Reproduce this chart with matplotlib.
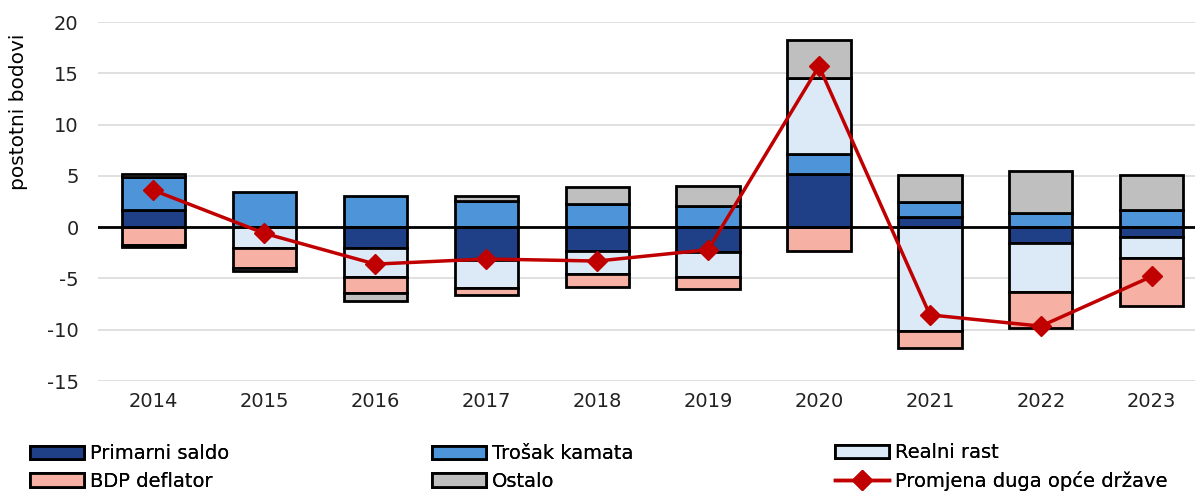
import numpy as np
import matplotlib
matplotlib.use("Agg")
import matplotlib.pyplot as plt

years = ["2014", "2015", "2016", "2017", "2018", "2019", "2020", "2021", "2022", "2023"]
primarni_saldo = [1.7, 0.0, -2.05, -3.2, -2.3, -2.45, 5.2, 1.0, -1.5, -1.0]
trosak_kamata = [3.2, 3.4, 3.05, 2.55, 2.3, 2.1, 1.95, 1.5, 1.35, 1.65]
realni_rast = [0.3, -2.05, -2.85, -2.7, -2.25, -2.45, 7.35, -10.1, -4.8, -2.0]
bdp_deflator = [-1.7, -1.95, -1.5, -0.7, -1.3, -1.15, -2.3, -1.7, -3.5, -4.65]
ostalo = [-0.2, -0.3, -0.8, 0.45, 1.65, 1.95, 3.8, 2.6, 4.1, 3.4]
promjena_duga = [3.6, -0.6, -3.6, -3.1, -3.3, -2.2, 15.7, -8.55, -9.65, -4.8]

series = [
    ("Primarni saldo", primarni_saldo, "#1F3F86"),
    ("Trošak kamata", trosak_kamata, "#4E94D8"),
    ("Realni rast", realni_rast, "#DCE9F6"),
    ("BDP deflator", bdp_deflator, "#F6B0A4"),
    ("Ostalo", ostalo, "#BFBFBF"),
]

plt.rcParams['font.family'] = ['DejaVu Sans']
plt.rcParams['axes.unicode_minus'] = False
fig = plt.figure(figsize=(11.95, 4.91), dpi=100)
ax = fig.add_axes([0.082, 0.224, 0.918, 0.731])

x = np.arange(len(years))
pos_base = np.zeros(len(years))
neg_base = np.zeros(len(years))
handles = []
for name, vals, col in series:
    v = np.array(vals)
    bottom = np.where(v >= 0, pos_base, neg_base)
    b = ax.bar(x, v, 0.57, bottom=bottom, color=col, edgecolor="black",
               linewidth=2, label=name, zorder=3)
    handles.append(b)
    pos_base += np.where(v >= 0, v, 0)
    neg_base += np.where(v < 0, v, 0)

ln, = ax.plot(x, promjena_duga, color="#C00000", lw=2.5, marker="D", ms=10,
              label="Promjena duga opće države", zorder=4)
handles.append(ln)

ax.axhline(0, color="black", lw=2, zorder=3.5)
ax.set_ylim(-15, 20)
ax.set_yticks(range(-15, 21, 5))
ax.set_xlim(-0.5, 9.39)
ax.set_xticks(x)
ax.set_xticklabels(years)
ax.yaxis.grid(True, color="#DDDDDD", lw=1.3, zorder=0)
ax.set_axisbelow(True)
for s in ax.spines.values():
    s.set_visible(False)
ax.tick_params(length=0, labelsize=14, colors="#222222", pad=8)
ax.tick_params(axis="y", pad=14)
ax.set_ylabel("postotni bodovi", fontsize=14.5)
ax.yaxis.set_label_coords(-0.064, 0.75)

labels = [h.get_label() for h in handles]
cols = [(0, 3), (1, 4), (2, 5)]
xs = [30 / 1195, 432 / 1195, 835 / 1195]
for (i, j), xp in zip(cols, xs):
    lg = fig.legend([handles[i], handles[j]], [labels[i], labels[j]],
                    loc="lower left", bbox_to_anchor=(xp, 0.0),
                    frameon=False, fontsize=14, handlelength=2.8,
                    handletextpad=0.3, labelspacing=0.45, borderpad=0,
                    borderaxespad=0)
    fig.add_artist(lg)

fig.savefig("out.png", dpi=100)
